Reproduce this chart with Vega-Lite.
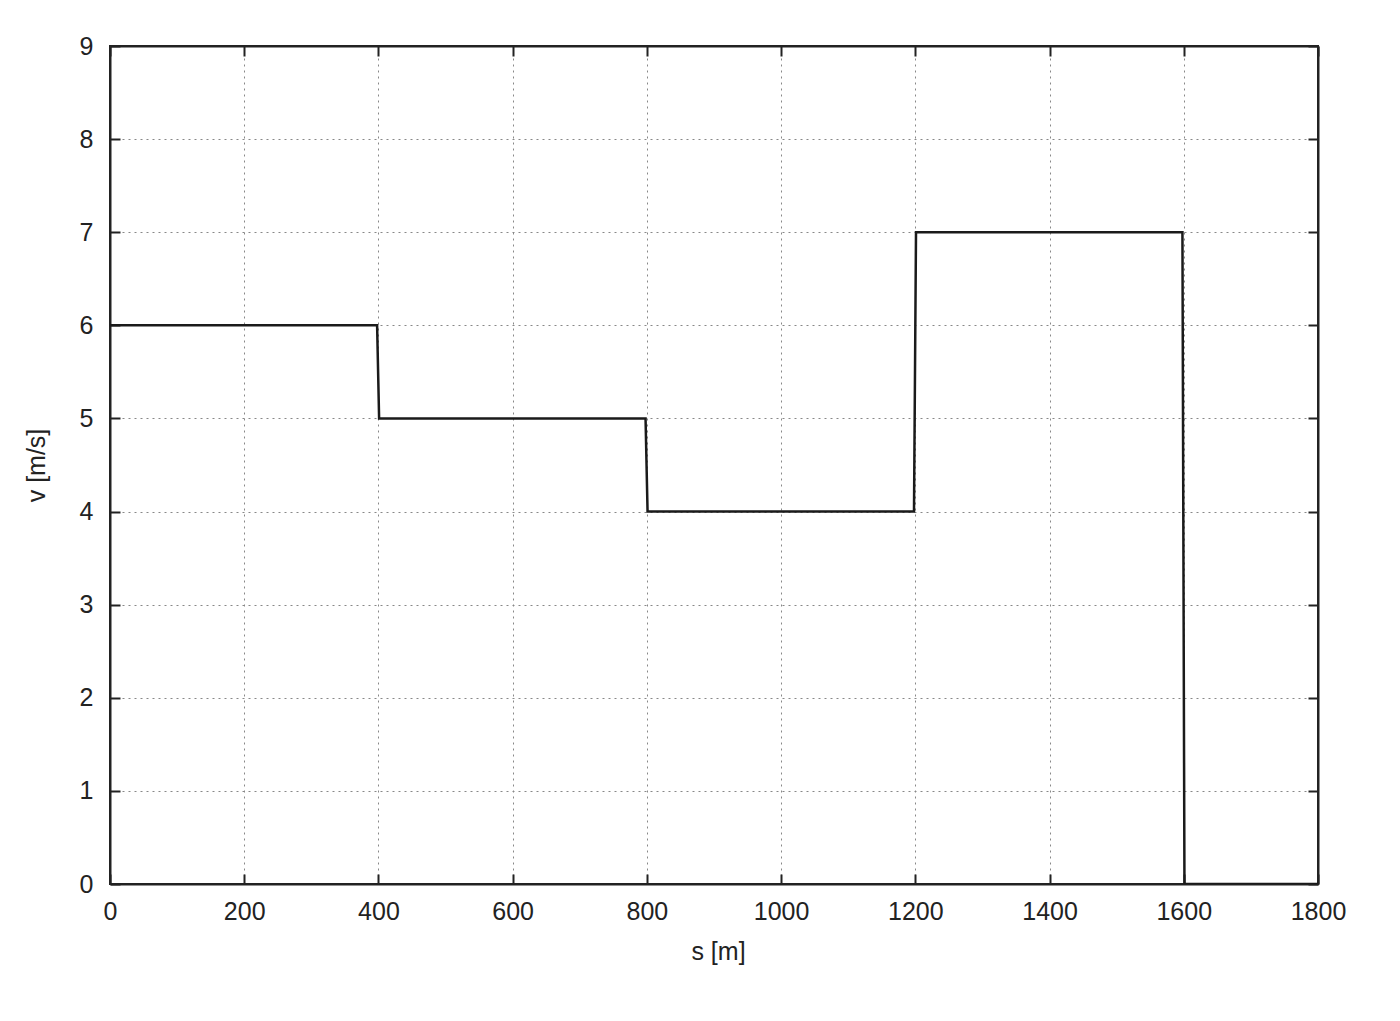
{
  "$schema": "https://vega.github.io/schema/vega-lite/v6.json",
  "autosize": {"type": "none"},
  "width": 1208,
  "height": 838,
  "padding": {"left": 110, "top": 46, "right": 82, "bottom": 137},
  "background": "white",
  "config": {
    "font": "Liberation Sans",
    "view": {"stroke": "#222", "strokeWidth": 2},
    "axis": {
      "domainColor": "#222",
      "domainWidth": 2,
      "tickColor": "#222",
      "tickWidth": 2,
      "tickSize": -10,
      "labelFontSize": 25,
      "labelColor": "#222",
      "labelFont": "Liberation Sans",
      "titleFont": "Liberation Sans",
      "titleFontSize": 25,
      "titleFontWeight": "normal",
      "titleColor": "#222",
      "gridColor": "#888",
      "gridDash": [2, 4],
      "gridWidth": 1
    }
  },
  "data": {
    "values": [
      {"s": 0, "v": 6},
      {"s": 398, "v": 6},
      {"s": 401, "v": 5},
      {"s": 798, "v": 5},
      {"s": 801, "v": 4},
      {"s": 1198, "v": 4},
      {"s": 1201, "v": 7},
      {"s": 1598, "v": 7},
      {"s": 1601, "v": 0},
      {"s": 1800, "v": 0}
    ]
  },
  "resolve": {"axis": {"x": "independent", "y": "independent"}},
  "layer": [
    {
      "mark": {"type": "line", "color": "#1a1a1a", "strokeWidth": 2.5, "clip": true},
      "encoding": {
        "x": {
          "field": "s", "type": "quantitative",
          "scale": {"domain": [0, 1800], "nice": false, "zero": false},
          "axis": {"orient": "bottom", "title": "s [m]", "format": "d", "values": [0,200,400,600,800,1000,1200,1400,1600,1800], "labelPadding": 25, "labelDx": 4, "titlePadding": 15, "titleX": 608, "grid": true, "labelFlush": false}
        },
        "y": {
          "field": "v", "type": "quantitative",
          "scale": {"domain": [0, 9], "nice": false},
          "axis": {"orient": "left", "title": "v [m/s]", "format": "d", "values": [0,1,2,3,4,5,6,7,8,9], "labelPadding": 27, "titlePadding": 30, "grid": true, "labelFlush": false}
        }
      }
    },
    {
      "mark": {"type": "line", "opacity": 0},
      "encoding": {
        "x": {
          "field": "s", "type": "quantitative",
          "axis": {"orient": "top", "title": null, "labels": false, "values": [0,200,400,600,800,1000,1200,1400,1600,1800], "grid": false}
        },
        "y": {
          "field": "v", "type": "quantitative",
          "axis": {"orient": "right", "title": null, "labels": false, "values": [0,1,2,3,4,5,6,7,8,9], "grid": false}
        }
      }
    }
  ]
}
